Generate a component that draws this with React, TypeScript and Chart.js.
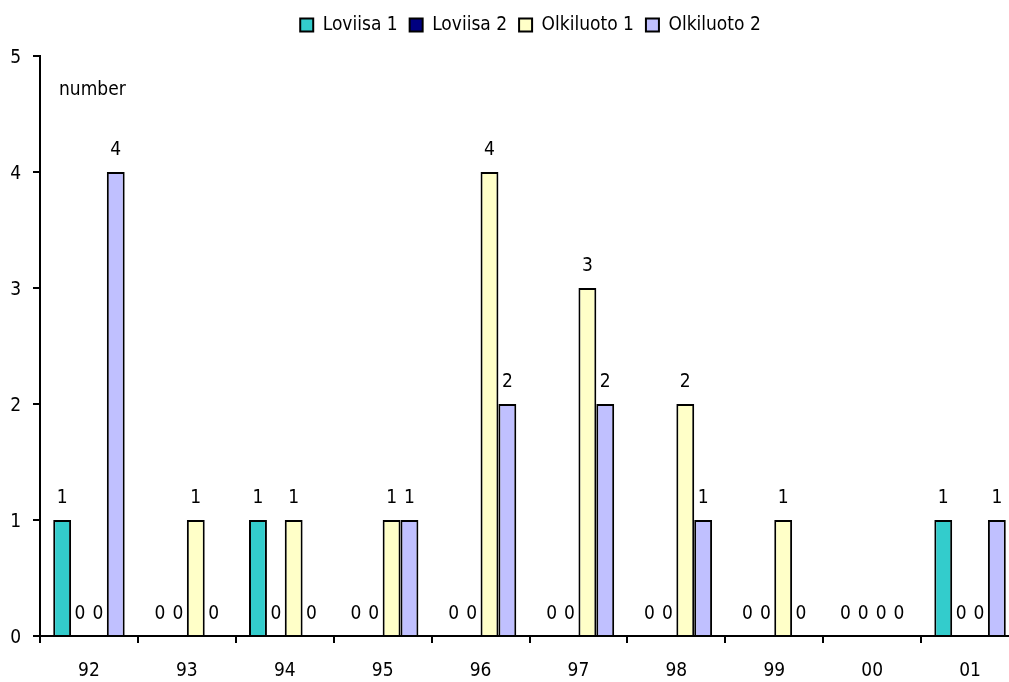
import React, { useEffect, useRef } from 'react';
import { Chart, registerables } from 'chart.js';

Chart.register(...registerables);

// Yearly counts per plant unit
const years = ['92', '93', '94', '95', '96', '97', '98', '99', '00', '01'];
const loviisa1 = [1, 0, 1, 0, 0, 0, 0, 0, 0, 1];
const loviisa2 = [0, 0, 0, 0, 0, 0, 0, 0, 0, 0];
const olkiluoto1 = [0, 1, 1, 1, 4, 3, 2, 1, 0, 0];
const olkiluoto2 = [4, 0, 0, 1, 2, 2, 1, 0, 0, 1];
const yTicks = [0, 1, 2, 3, 4, 5];
const unitLabel = 'number';

const FONT = "'Liberation Sans Narrow', 'DejaVu Sans Condensed', 'Arial Narrow', sans-serif";
const FONT_SIZE = 19;

// Writes each bar's value above it
const valueLabels = {
  id: 'valueLabels',
  afterDatasetsDraw(chart: any) {
    const ctx = chart.ctx;
    ctx.save();
    ctx.font = `${FONT_SIZE}px ${FONT}`;
    ctx.fillStyle = '#000';
    ctx.textAlign = 'center';
    ctx.textBaseline = 'alphabetic';
    chart.data.datasets.forEach((ds: any, i: number) => {
      const meta = chart.getDatasetMeta(i);
      meta.data.forEach((el: any, j: number) => {
        ctx.fillText(String(ds.data[j]), el.x, el.y - 17.5);
      });
    });
    ctx.restore();
  },
};

// Unit caption inside the plot, top left
const unitCaption = {
  id: 'unitCaption',
  afterDraw(chart: any) {
    const ctx = chart.ctx;
    ctx.save();
    ctx.font = `${FONT_SIZE}px ${FONT}`;
    ctx.fillStyle = '#000';
    ctx.textAlign = 'left';
    ctx.textBaseline = 'alphabetic';
    ctx.fillText(unitLabel, 59, 95);
    ctx.restore();
  },
};

// Nudges the legend row to the right
const legendShift = {
  id: 'legendShift',
  afterLayout(chart: any) {
    if (chart.legend) {
      chart.legend.left += 21;
      chart.legend.right += 21;
    }
  },
};

export default function App() {
  const canvasRef = useRef<HTMLCanvasElement | null>(null);

  useEffect(() => {
    document.body.style.margin = '0';
    const canvas = canvasRef.current;
    if (!canvas) return;
    const border = { color: '#000', width: 2 };
    const chart = new Chart(canvas, {
      type: 'bar',
      data: {
        labels: years,
        datasets: [
          { label: 'Loviisa 1', data: loviisa1, backgroundColor: '#33CCCC', borderColor: border.color, borderWidth: border.width },
          { label: 'Loviisa 2', data: loviisa2, backgroundColor: '#000080', borderColor: border.color, borderWidth: border.width },
          { label: 'Olkiluoto 1', data: olkiluoto1, backgroundColor: '#FFFFC8', borderColor: border.color, borderWidth: border.width },
          { label: 'Olkiluoto 2', data: olkiluoto2, backgroundColor: '#C0C0FF', borderColor: border.color, borderWidth: border.width },
        ],
      },
      options: {
        responsive: false,
        animation: false,
        layout: { padding: { top: 3.5, left: 0, right: 0, bottom: 0 } },
        datasets: {
          bar: { categoryPercentage: 0.73, barPercentage: 1.0 },
        },
        plugins: {
          legend: {
            position: 'top',
            labels: {
              boxWidth: 13,
              boxHeight: 13,
              padding: 12,
              color: '#000',
              font: { family: FONT, size: FONT_SIZE },
            },
          },
          subtitle: {
            display: true,
            text: '',
            weight: 500,
            font: { size: 1, lineHeight: 1 },
            padding: { top: 0, bottom: 10.5 },
          } as any,
          tooltip: { enabled: false },
        },
        scales: {
          x: {
            offset: true,
            grid: {
              offset: true,
              drawOnChartArea: false,
              drawTicks: true,
              tickLength: 7,
              color: '#000',
              lineWidth: 2,
            },
            border: { display: true, color: '#000', width: 2 },
            ticks: {
              color: '#000',
              padding: 17,
              maxRotation: 0,
              autoSkip: false,
              font: { family: FONT, size: FONT_SIZE },
            },
            afterFit(scale: any) {
              scale.height = 46;
            },
          },
          y: {
            min: 0,
            max: 5,
            grid: {
              drawOnChartArea: false,
              drawTicks: true,
              tickLength: 7,
              color: '#000',
              lineWidth: 2,
            },
            border: { display: true, color: '#000', width: 2 },
            ticks: {
              color: '#000',
              padding: 12,
              labelOffset: 2,
              font: { family: FONT, size: FONT_SIZE },
            },
            afterBuildTicks(scale: any) {
              scale.ticks = yTicks.map((v) => ({ value: v }));
            },
            afterFit(scale: any) {
              scale.width = 40;
            },
          },
        },
      },
      plugins: [valueLabels, unitCaption, legendShift],
    });
    return () => chart.destroy();
  }, []);

  return (
    <div style={{ width: 1009, height: 682, overflow: 'hidden', position: 'relative', background: '#fff' }}>
      <canvas ref={canvasRef} width={1019} height={682} style={{ display: 'block' }} />
    </div>
  );
}
